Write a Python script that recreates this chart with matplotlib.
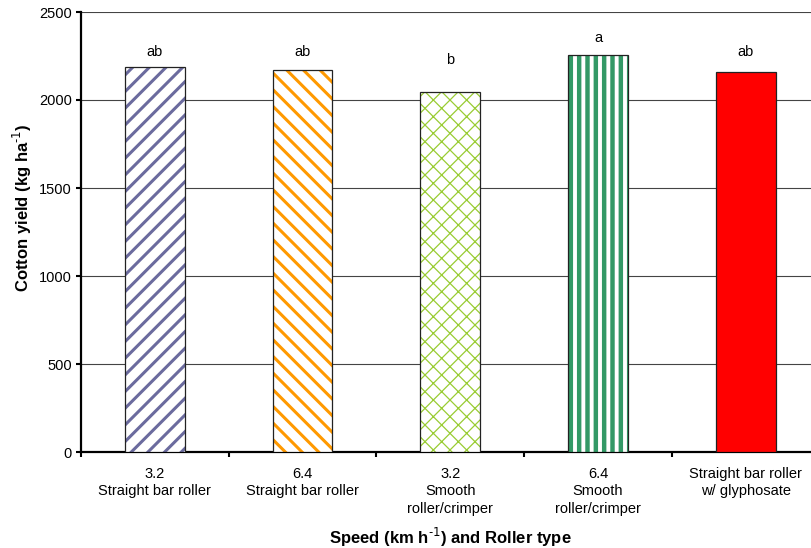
import matplotlib.pyplot as plt
import numpy as np

plt.rcParams['font.family'] = ['Liberation Sans', 'DejaVu Sans']

# datos
etiquetas = ["3.2\nStraight bar roller", "6.4\nStraight bar roller",
             "3.2\nSmooth\nroller/crimper", "6.4\nSmooth\nroller/crimper",
             "Straight bar roller\nw/ glyphosate"]
rendimiento = [2186, 2172, 2046, 2254, 2158]
letras = ["ab", "ab", "b", "a", "ab"]
letras_y = [2272, 2272, 2228, 2352, 2272]

colores = ["#6B6B9E", "#FF9900", "#99CC33", "#339966", "#FF0000"]
tramas = ["//", "\\\\", "xx", "||", None]
grosor_trama = [2.2, 2.2, 0.9, 3.2, 1.0]


def graficar():
    fig = plt.figure(figsize=(8.12, 5.48), dpi=100)
    ax = fig.add_axes([81 / 812, 1 - 452 / 548, 738.5 / 812, 440 / 548])
    X = np.arange(len(rendimiento))
    ancho = 0.405

    for i in range(len(rendimiento)):
        if tramas[i] is None:
            ax.bar(X[i], rendimiento[i], width=ancho, color=colores[i],
                   edgecolor="#222222", linewidth=0.9, zorder=3)
        else:
            with plt.rc_context({'hatch.linewidth': grosor_trama[i]}):
                ax.bar(X[i], rendimiento[i], width=ancho, color="white",
                       edgecolor=colores[i], hatch=tramas[i], linewidth=0, zorder=3)
            ax.bar(X[i], rendimiento[i], width=ancho, fill=False,
                   edgecolor="#222222", linewidth=0.9, zorder=4)
        ax.text(X[i], letras_y[i], letras[i], ha="center", va="center", fontsize=10.5)

    ax.set_xlim(-0.5, len(rendimiento) - 0.5)
    ax.set_ylim(0, 2500)
    ax.set_yticks(np.arange(0, 2501, 500))
    ax.yaxis.grid(True, color="#444444", linewidth=0.8)
    ax.set_axisbelow(True)

    ax.set_xticks(np.arange(-0.5, len(rendimiento) + 0.5, 1))
    ax.set_xticklabels([])
    ax.set_xticks(X, minor=True)
    ax.set_xticklabels(etiquetas, minor=True, fontsize=10.5, linespacing=1.32, va="top")
    ax.tick_params(axis="x", which="minor", length=0, pad=10.5)
    ax.tick_params(axis="x", which="major", length=3.5, width=1.5, direction="out")
    ax.tick_params(axis="y", length=3.5, width=1.5, direction="out", labelsize=10.5, pad=3)

    for lado in ["top", "right"]:
        ax.spines[lado].set_visible(False)
    ax.spines["left"].set_linewidth(1.6)
    ax.spines["bottom"].set_linewidth(1.6)

    fig.text(22 / 812, 1 - 208 / 548, "Cotton yield (kg ha$^{\\text{-1}}$)", rotation=90,
             ha="center", va="center", fontsize=12, fontweight="bold")
    fig.text(450 / 812, 1 - 537 / 548, "Speed (km h$^{\\text{-1}}$) and Roller type",
             ha="center", va="center", fontsize=12, fontweight="bold")

    fig.savefig("out.png", dpi=100)


graficar()
